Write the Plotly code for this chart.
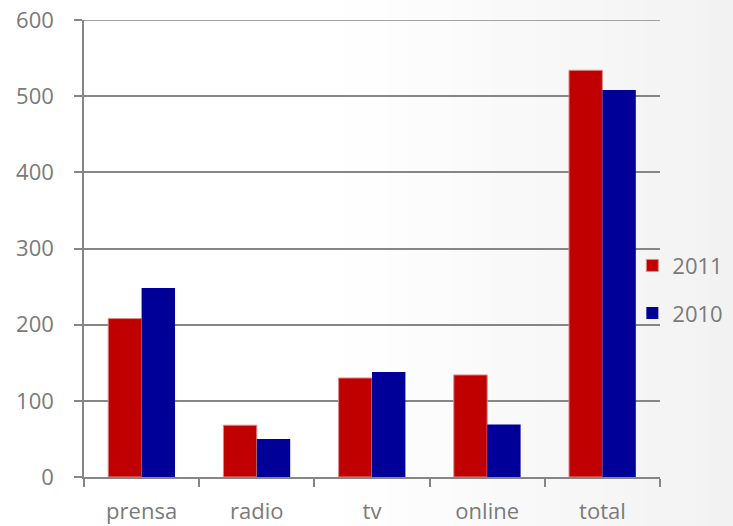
import plotly.graph_objects as go

categories = ["prensa", "radio", "tv", "online", "total"]
values_2011 = [208, 68, 130, 134, 534]
values_2010 = [248, 50, 138, 69, 508]
y_ticks = [0, 100, 200, 300, 400, 500, 600]

GREY = "#868686"
TXT = "#7a7a7a"
FONT = "Open Sans, Noto Sans, sans-serif"

fig = go.Figure()
fig.add_trace(go.Bar(
    x=categories, y=values_2011, name="2011", legendgroup="a",
    marker=dict(color="#C00000", line=dict(color="#e08a8a", width=1)),
))
fig.add_trace(go.Bar(
    x=categories, y=values_2010, name="2010", legendgroup="b",
    marker=dict(color="#000099", line=dict(width=0)),
))

# subtle background gradient to the right
shapes = []
n = 20
span = 0.75
for i in range(n):
    x0 = 0.45 + i * (span / n)
    x1 = x0 + span / n + 0.002
    g = int(round(255 - (i + 1) * 14 / n))
    shapes.append(dict(type="rect", xref="paper", yref="paper", x0=x0, x1=x1,
                       y0=-0.2, y1=1.1, fillcolor=f"rgb({g},{g},{g})",
                       line=dict(width=0), layer="below"))
# top gridline (plotly omits gridlines at the very edge of the range)
shapes.append(dict(type="line", xref="paper", yref="y", x0=0, x1=1,
                   y0=y_ticks[-1], y1=y_ticks[-1],
                   line=dict(color=GREY, width=1.5), layer="below"))

fig.update_layout(
    width=733, height=526,
    margin=dict(l=84, r=73, t=20, b=49, autoexpand=False),
    paper_bgcolor="white", plot_bgcolor="rgba(0,0,0,0)",
    barmode="group", bargap=0.42, bargroupgap=0,
    font=dict(family=FONT, color=TXT, size=22),
    showlegend=True,
    legend=dict(x=0.952, xanchor="left", y=0.41, yanchor="middle",
                bgcolor="rgba(0,0,0,0)", tracegroupgap=16,
                font=dict(size=22, color=TXT), itemwidth=30),
    xaxis=dict(showline=True, linecolor=GREY, linewidth=1.5,
               ticks="outside", ticklen=8, tickcolor=GREY, tickwidth=1.5,
               tickson="boundaries", showgrid=False, automargin=False,
               ticklabelstandoff=14, ticklabeloverflow="allow",
               tickfont=dict(size=22, color=TXT)),
    yaxis=dict(range=[0, 600], tickvals=y_ticks, showline=True, linecolor=GREY,
               linewidth=1.5, ticks="outside", ticklen=8, tickcolor=GREY,
               tickwidth=1.5, showgrid=True, gridcolor=GREY, gridwidth=1.5,
               zeroline=False, ticklabelstandoff=16, automargin=False,
               ticklabeloverflow="allow",
               tickfont=dict(size=22, color=TXT)),
    shapes=shapes,
)
fig.write_html("out.html",
               config={"displayModeBar": False},
               post_script="document.body.style.margin='0';"
                           "document.body.style.overflow='hidden';")
